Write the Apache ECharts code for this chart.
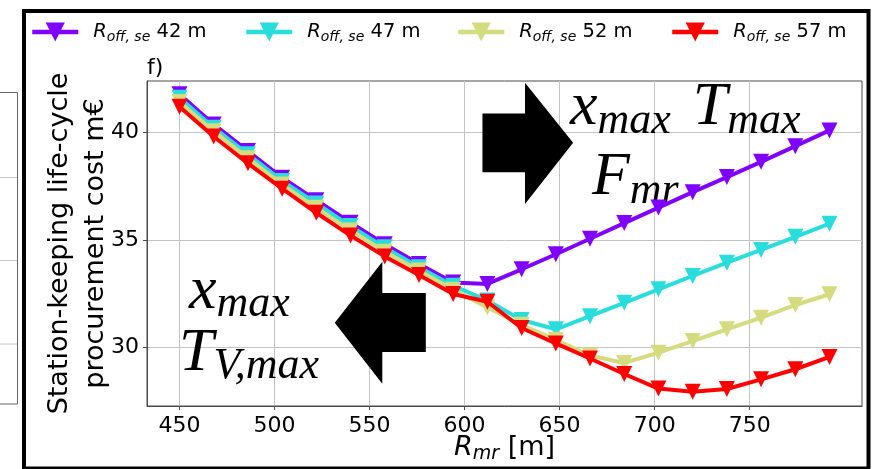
<!DOCTYPE html>
<html>
<head>
<meta charset="utf-8">
<script src="https://cdn.jsdelivr.net/npm/echarts@6/dist/echarts.min.js"></script>
<style>
  html, body { margin: 0; padding: 0; background: #ffffff; }
  #chart { width: 872px; height: 469px; }
</style>
</head>
<body>
<div id="chart"></div>
<script>
// Mooring radius R_mr [m] (x values shared by all curves)
const rMr = [450, 468, 486, 504, 522, 540, 558, 576, 594, 612, 630, 648, 666, 684, 702, 720, 738, 756, 774, 792];

// Offset radius of each curve [m]
const rOff = [42, 47, 52, 57];

// Station-keeping life-cycle procurement cost [m€] for each offset radius
const cost42 = [41.77, 40.37, 39.13, 37.89, 36.84, 35.80, 34.80, 33.88, 33.02, 32.95, 33.63, 34.33, 35.05, 35.78, 36.50, 37.22, 37.92, 38.63, 39.36, 40.09];
const cost47 = [41.61, 40.22, 38.98, 37.74, 36.69, 35.64, 34.65, 33.73, 32.86, 32.18, 31.27, 30.84, 31.45, 32.07, 32.70, 33.32, 33.94, 34.53, 35.14, 35.75];
const cost52 = [41.41, 40.05, 38.80, 37.57, 36.49, 35.44, 34.45, 33.57, 32.68, 31.85, 31.05, 30.35, 29.62, 29.27, 29.75, 30.29, 30.84, 31.38, 31.97, 32.47];
const cost57 = [41.19, 39.81, 38.56, 37.38, 36.26, 35.20, 34.23, 33.36, 32.48, 32.12, 30.90, 30.18, 29.48, 28.76, 28.08, 27.93, 28.06, 28.51, 28.98, 29.55];

// Tick labels
const xTicks = [450, 500, 550, 600, 650, 700, 750];
const yTicks = [30, 35, 40];

const costs = [cost42, cost47, cost52, cost57];
const colors = ['#8000ff', '#2adddd', '#d4dc7f', '#ff0000'];
const seriesNames = rOff.map(r => 'R_off,se ' + r + ' m');

const SANS = 'DejaVu Sans';
const SERIF = 'Liberation Serif';

const legendRich = {
  g: { width: 10, fontSize: 10, lineHeight: 24 },
  r: { fontFamily: SANS, fontStyle: 'italic', fontSize: 19.5, lineHeight: 24, color: '#000' },
  s: { fontFamily: SANS, fontStyle: 'italic', fontSize: 14, lineHeight: 14, padding: [10, 0, 0, 0], color: '#000' },
  n: { fontFamily: SANS, fontSize: 19.5, lineHeight: 24, color: '#000' }
};
const legendLeft = [30, 244, 456, 670];

const chart = echarts.init(document.getElementById('chart'), null, { renderer: 'canvas', width: 872, height: 469 });

const option = {
  animation: false,
  backgroundColor: '#ffffff',
  textStyle: { fontFamily: SANS, color: '#000' },
  legend: seriesNames.map((name, i) => ({
    data: [name],
    left: legendLeft[i],
    top: 20,
    padding: 0,
    itemGap: 0,
    itemWidth: 46,
    itemHeight: 24,
    selectedMode: false,
    lineStyle: { width: 4.5, color: colors[i] },
    itemStyle: { color: colors[i] },
    formatter: n => '{g| }{r|R}{s|off, se}{n| ' + rOff[seriesNames.indexOf(n)] + ' m}',
    textStyle: { fontFamily: SANS, fontSize: 19.5, color: '#000', rich: legendRich }
  })),
  grid: {
    left: 147, top: 81, right: 10, bottom: 63,
    show: true, borderColor: '#4a4a4a', borderWidth: 1,
    backgroundColor: 'transparent',
    containLabel: false,
    outerBoundsMode: 'none'
  },
  xAxis: {
    type: 'value',
    min: 432.9,
    max: 809.1,
    name: '{i|R}{s|mr}{n| [m]}',
    nameLocation: 'middle',
    nameGap: 27,
    nameMoveOverlap: false,
    nameTextStyle: {
      rich: {
        i: { fontFamily: SANS, fontStyle: 'italic', fontSize: 27, lineHeight: 30, color: '#000' },
        s: { fontFamily: SANS, fontStyle: 'italic', fontSize: 19, lineHeight: 19, padding: [13, 0, 0, 0], color: '#000' },
        n: { fontFamily: SANS, fontSize: 27, lineHeight: 30, color: '#000' }
      }
    },
    axisLine: { show: true, lineStyle: { color: '#4a4a4a', width: 1 } },
    axisTick: { show: true, length: 4, customValues: xTicks, lineStyle: { color: '#4a4a4a', width: 1 } },
    axisLabel: { customValues: xTicks, margin: 9, fontFamily: SANS, fontSize: 22, color: '#000' },
    splitLine: { show: true, lineStyle: { color: '#c4c4c4', width: 1 } }
  },
  yAxis: {
    type: 'value',
    min: 27.27,
    max: 42.39,
    name: 'Station-keeping life-cycle\nprocurement cost m€',
    nameLocation: 'middle',
    nameRotate: 90,
    nameGap: 33,
    nameMoveOverlap: false,
    nameTextStyle: { fontFamily: SANS, fontSize: 27, lineHeight: 36, color: '#000', align: 'center' },
    axisLine: { show: true, lineStyle: { color: '#4a4a4a', width: 1 } },
    axisTick: { show: true, length: 4, customValues: yTicks, lineStyle: { color: '#4a4a4a', width: 1 } },
    axisLabel: { customValues: yTicks, margin: 8, fontFamily: SANS, fontSize: 22, color: '#000' },
    splitLine: { show: true, lineStyle: { color: '#c4c4c4', width: 1 } }
  },
  series: costs.map((vals, i) => ({
    name: seriesNames[i],
    type: 'line',
    z: 2 + i,
    data: rMr.map((x, k) => [x, vals[k]]),
    symbol: 'triangle',
    symbolRotate: 180,
    symbolSize: 16,
    showSymbol: true,
    clip: false,
    lineStyle: { color: colors[i], width: 4 },
    itemStyle: { color: colors[i] },
    emphasis: { disabled: true }
  }))
};

chart.setOption(option);

// Block arrows and math annotations, placed in data coordinates
const arrowRight = [[609.4, 40.88], [631.8, 40.88], [631.8, 42.31], [657.1, 39.52], [631.8, 36.67], [631.8, 38.14], [609.4, 38.14]];
const arrowLeft = [[579.6, 32.53], [556.7, 32.53], [556.7, 33.98], [531.7, 31.14], [556.7, 28.31], [556.7, 29.78], [579.6, 29.78]];

const mathRich = {
  m: { fontFamily: SERIF, fontStyle: 'italic', fontSize: 62, lineHeight: 62, verticalAlign: 'top', color: '#000' },
  s: { fontFamily: SERIF, fontStyle: 'italic', fontSize: 44, lineHeight: 44, padding: [22, 0, 0, 0], verticalAlign: 'top', color: '#000' },
  g: { width: 22, fontSize: 10, lineHeight: 10, verticalAlign: 'top' }
};
// [rich text, x at start, y at main baseline]
const mathNotes = [
  ['{m|x}{s|max}{g| }{m|T}{s|max}', 655.4, 40.67],
  ['{m|F}{s|mr}', 667.0, 37.41],
  ['{m|x}{s|max}', 455.0, 32.12],
  ['{m|T}{s|V,max}', 449.8, 29.26]
];
const MAIN_BASELINE = 41;

const toPx = p => chart.convertToPixel({ gridIndex: 0 }, p);

const graphics = [];
// outer figure frame
graphics.push({
  type: 'rect', z: 10, silent: true,
  shape: { x: 24, y: 11, width: 844.5, height: 457.5 },
  style: { fill: 'none', stroke: '#000', lineWidth: 4 }
});
// edge of the neighbouring panel on the left
graphics.push({
  type: 'rect', z: 10, silent: true,
  shape: { x: -2, y: 92.5, width: 19.5, height: 311.5 },
  style: { fill: 'none', stroke: '#666', lineWidth: 1 }
});
[177.5, 260.5, 344].forEach(y => graphics.push({
  type: 'line', z: 10, silent: true,
  shape: { x1: 0, y1: y, x2: 17, y2: y },
  style: { stroke: '#c8c8c8', lineWidth: 1 }
}));
// panel tag
graphics.push({
  type: 'text', z: 10, silent: true,
  style: { text: 'f)', x: 147, y: 68, verticalAlign: 'middle', align: 'left',
           fontFamily: SANS, fontSize: 22, fill: '#000' }
});
[arrowRight, arrowLeft].forEach(pts => graphics.push({
  type: 'polygon', z: 1, silent: true,
  shape: { points: pts.map(toPx) },
  style: { fill: '#000', stroke: 'none' }
}));
mathNotes.forEach(([txt, x, y]) => {
  const p = toPx([x, y]);
  graphics.push({
    type: 'text', z: 1, silent: true,
    style: { text: txt, x: p[0], y: p[1] - MAIN_BASELINE, align: 'left', verticalAlign: 'top',
             rich: mathRich, fill: '#000' }
  });
});

chart.setOption({ graphic: graphics });
</script>
</body>
</html>
